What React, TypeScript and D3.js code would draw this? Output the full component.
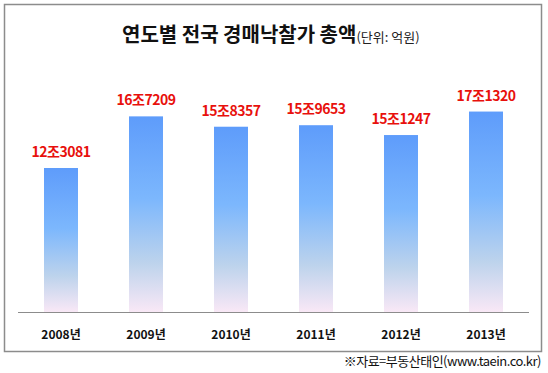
import React from "react";
import * as d3 from "d3";

const years = ["2008년", "2009년", "2010년", "2011년", "2012년", "2013년"];
const totals = [123081, 167209, 158357, 159653, 151247, 171320]; // 억원
const valueLabels = ["12조3081", "16조7209", "15조8357", "15조9653", "15조1247", "17조1320"];

const W = 548;
const H = 373;
const FONT = "'Noto Sans CJK KR', 'Noto Sans', sans-serif";

export default function App() {
  const x = d3.scaleBand<string>()
    .domain(years)
    .range([18.5, 528.5])
    .paddingInner(0.6)
    .paddingOuter(0.3);

  const y = d3.scaleLinear()
    .domain([0, 200000])
    .range([312, 78]);

  return (
    <svg
      width={W}
      height={H}
      style={{ position: "absolute", left: 0, top: 0, background: "#fff" }}
      fontFamily={FONT}
    >
      <defs>
        <linearGradient id="barGrad" x1="0" y1="0" x2="0" y2="1">
          <stop offset="0" stopColor="#5e9cfb" />
          <stop offset="0.42" stopColor="#7cb7fd" />
          <stop offset="0.75" stopColor="#bdd3ec" />
          <stop offset="1" stopColor="#f9e8f6" />
        </linearGradient>
      </defs>

      <rect x={4.5} y={4.5} width={537} height={347} fill="#fff" stroke="#8c8c8c" strokeWidth={1.5} />

      <text x={122} y={42} fontSize={20} fontWeight="bold" fill="#111">
        연도별 전국 경매낙찰가 총액
        <tspan fontSize={13} fontWeight="normal" fill="#222">(단위: 억원)</tspan>
      </text>

      {years.map((yr, i) => {
        const bx = x(yr) ?? 0;
        const top = y(totals[i]);
        return (
          <g key={yr}>
            <rect x={bx} y={top} width={x.bandwidth()} height={y(0) - top} fill="url(#barGrad)" />
            <text
              x={bx + x.bandwidth() / 2}
              y={top - 11}
              textAnchor="middle"
              fontSize={14}
              fontWeight="bold"
              letterSpacing={-0.5}
              fill="#e8100c"
            >
              {valueLabels[i]}
            </text>
            <text
              x={bx + x.bandwidth() / 2}
              y={339}
              textAnchor="middle"
              fontSize={12}
              fontWeight="bold"
              fill="#111"
            >
              {yr}
            </text>
          </g>
        );
      })}

      <line x1={18} x2={529} y1={y(0) + 0.5} y2={y(0) + 0.5} stroke="#8c8c8c" strokeWidth={1} />

      <text x={541} y={366} textAnchor="end" fontSize={13} fill="#111" letterSpacing={-0.5}>
        ※자료=부동산태인(www.taein.co.kr)
      </text>
    </svg>
  );
}
